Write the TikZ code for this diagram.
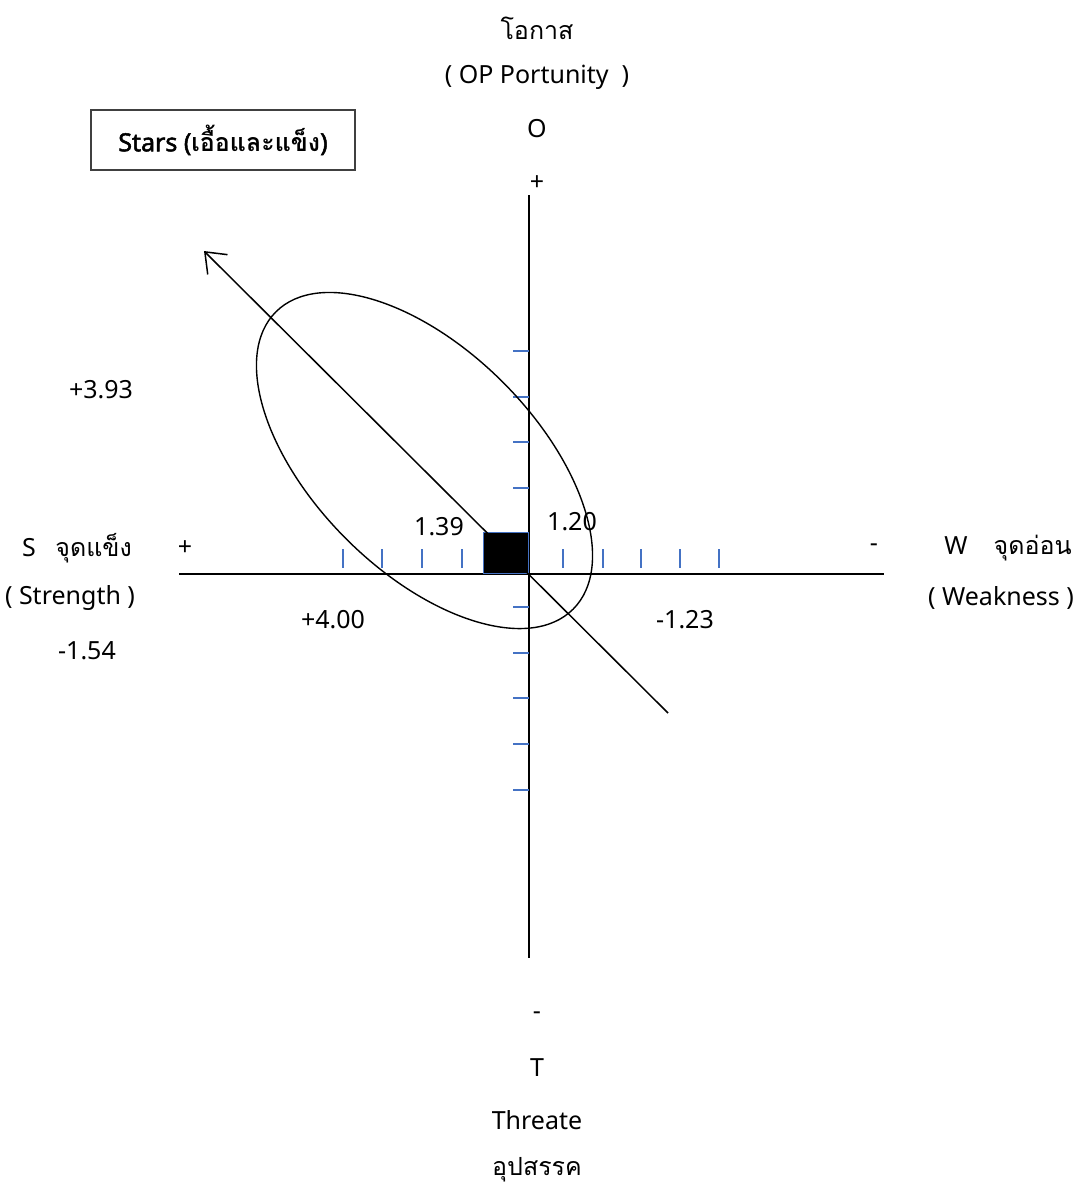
\documentclass[tikz,border=0pt]{standalone}
\usepackage{fontspec}
\setmainfont{Noto Sans}[BoldFont={Noto Sans}, BoldFeatures={FakeBold=2}]
\newfontfamily\thaifont[Script=Thai]{Loma}
\usetikzlibrary{arrows.meta, positioning}
\definecolor{tickblue}{RGB}{68,114,196}

\begin{document}
\begin{tikzpicture}[
    x=0.5pt, y=-0.5pt,
    font=\fontsize{12.5}{15}\selectfont,
    lbl/.style={inner sep=0pt, anchor=center},
    axis/.style={line width=1pt, black},
    tickmark/.style={line width=1pt, tickblue},
    trend/.style={line width=0.75pt, black, -{Straight Barb[length=9pt, width=14pt]}},
    ring/.style={line width=0.7pt, black},
    starbox/.style={
        rectangle, draw=black!75, line width=0.7pt,
        minimum width=132pt, minimum height=30pt,
        font=\fontsize{12.5}{15}\selectfont\bfseries
    },
    core/.style={
        rectangle, fill=black, draw=tickblue, line width=0.5pt,
        minimum width=22.5pt, minimum height=20.5pt, inner sep=0pt
    }
]
\useasboundingbox (0,0) rectangle (1081,1191);

% axes
\coordinate (west)   at (179,574);
\coordinate (east)   at (884,574);
\coordinate (north)  at (529,195);
\coordinate (south)  at (529,958);
\coordinate (origin) at (529,574);

\draw[axis] (west) -- (east);
\draw[axis] (north) -- (south);

% scale marks
\foreach \tx in {343,382,422,462,563,603,641,680,719}
    \draw[tickmark] (\tx,549) -- (\tx,568);
\foreach \ty in {351,397,442,488,607,653,698,744,790}
    \draw[tickmark] (513,\ty) -- (529,\ty);

% ellipse and strategy direction
\draw[ring, rotate around={-45:(424.5,460.5)}]
    (424.5,460.5) ellipse [x radius=105.1pt, y radius=55.4pt];

\node (core) [core, anchor=south east] at (origin) {};

\coordinate (tail) at (668,713);
\coordinate (tip)  at (204,251);
\draw[trend] (tail) -- (tip);

% labels, top
\node (oth)  [lbl] at (537,28)  {\thaifont โอกาส};
\node (oen)  [lbl] at (537,77)  {( OP Portunity~~)};
\node (olet) [lbl] at (537,129) {O};
\node (oplus)[lbl] at (537,183) {+};

\node (stars) [starbox] at (223,140) {Stars ({\thaifont เอื้อและแข็ง})};

% labels, left
\node (vO)    [lbl] at (101,390) {+3.93};
\node (sth)   [lbl] at (77,548)  {S~~~{\thaifont จุดแข็ง}};
\node (splus) [lbl] at (185,548) {+};
\node (sen)   [lbl] at (70,598)  {( Strength )};
\node (vS)    [lbl] at (87,651)  {-1.54};

% labels, centre
\node (v139) [lbl] at (439,527) {1.39};
\node (v120) [lbl] at (572,522) {1.20};
\node (v400) [lbl] at (333,620) {+4.00};
\node (v123) [lbl] at (685,620) {-1.23};

% labels, right
\node (wminus) [lbl] at (874,548)  {-};
\node (wth)    [lbl] at (1008,548) {W~~~~{\thaifont จุดอ่อน}};
\node (wen)    [lbl] at (1001,598) {( Weakness )};

% labels, bottom
\node (tminus) [lbl] at (537,1016) {-};
\node (tlet)   [lbl] at (537,1068) {T};
\node (ten)    [lbl] at (537,1120) {Threate};
\node (tth)    [lbl] at (537,1170) {\thaifont อุปสรรค};

\end{tikzpicture}
\end{document}
